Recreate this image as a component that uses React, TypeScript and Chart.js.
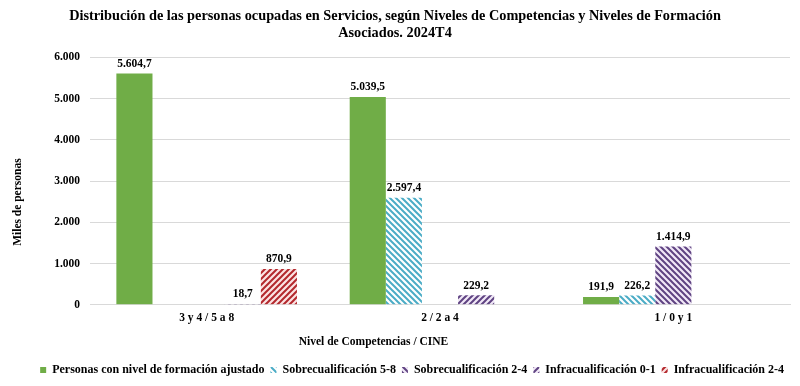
import React, { useEffect, useRef } from "react";
import { Chart, registerables } from "chart.js";

Chart.register(...registerables);

const categories = ["3 y 4 / 5 a 8", "2 / 2 a 4", "1 / 0 y 1"];
const ajustado = [5604.7, 5039.5, 191.9];
const sobre58 = [null, 2597.4, 226.2];
const sobre24 = [null, null, 1414.9];
const infra01 = [18.7, 229.2, null];
const infra24 = [870.9, null, null];
const seriesNames = [
  "Personas con nivel de formación ajustado",
  "Sobrecualificación 5-8",
  "Sobrecualificación 2-4",
  "Infracualificación 0-1",
  "Infracualificación 2-4",
];
const yTicks = [0, 1000, 2000, 3000, 4000, 5000, 6000];

const FONT = "'Liberation Serif', 'Times New Roman', serif";

function fmt(v: number, dec: number) {
  const s = v.toFixed(dec);
  const [i, d] = s.split(".");
  const ii = i.replace(/\B(?=(\d{3})+(?!\d))/g, ".");
  return d !== undefined ? ii + "," + d : ii;
}

function makePattern(color: string, bg: string, back: boolean) {
  const size = 6;
  const c = document.createElement("canvas");
  c.width = size;
  c.height = size;
  const ctx = c.getContext("2d")!;
  ctx.fillStyle = bg;
  ctx.fillRect(0, 0, size, size);
  ctx.strokeStyle = color;
  ctx.lineWidth = 2;
  ctx.lineCap = "square";
  ctx.beginPath();
  if (back) {
    ctx.moveTo(-1, -1);
    ctx.lineTo(size + 1, size + 1);
    ctx.moveTo(-1 - size, -1);
    ctx.lineTo(1, size + 1);
    ctx.moveTo(size - 1, -1);
    ctx.lineTo(2 * size + 1, size + 1);
  } else {
    ctx.moveTo(-1, size + 1);
    ctx.lineTo(size + 1, -1);
    ctx.moveTo(-1 - size, size + 1);
    ctx.lineTo(1, -1);
    ctx.moveTo(size - 1, size + 1);
    ctx.lineTo(2 * size + 1, -1);
  }
  ctx.stroke();
  return ctx.createPattern(c, "repeat")!;
}

const labelPlugin = {
  id: "barLabels",
  afterDatasetsDraw(chart: any) {
    const ctx = chart.ctx;
    ctx.save();
    ctx.font = `bold 11.5px ${FONT}`;
    ctx.fillStyle = "#000";
    ctx.textAlign = "center";
    ctx.textBaseline = "bottom";
    chart.data.datasets.forEach((ds: any, i: number) => {
      const meta = chart.getDatasetMeta(i);
      meta.data.forEach((el: any, j: number) => {
        const v = ds.data[j];
        if (v === null || v === undefined) return;
        ctx.fillText(fmt(v, 1), el.x, el.y - 4);
      });
    });
    ctx.restore();
  },
};

const axisTitlePlugin = {
  id: "axisTitles",
  afterDraw(chart: any) {
    const ctx = chart.ctx;
    const ca = chart.chartArea;
    ctx.save();
    ctx.font = `bold 11.5px ${FONT}`;
    ctx.fillStyle = "#000";
    ctx.textAlign = "center";
    ctx.textBaseline = "middle";
    ctx.fillText("Nivel de Competencias / CINE", ca.left + (ca.right - ca.left) * 0.405, ca.bottom + 37);
    ctx.translate(18, ca.top + (ca.bottom - ca.top) * 0.585);
    ctx.rotate(-Math.PI / 2);
    ctx.fillText("Miles de personas", 0, 0);
    ctx.restore();
  },
};

export default function App() {
  const ref = useRef<HTMLCanvasElement>(null);
  useEffect(() => {
    const colors = [
      "#70AD47",
      makePattern("#4BACC6", "#ffffff", true),
      makePattern("#5F4382", "#F1E8F7", true),
      makePattern("#5F4382", "#F1E8F7", false),
      makePattern("#B3282D", "#FBE3E3", false),
    ];
    const values = [ajustado, sobre58, sobre24, infra01, infra24];
    const chart = new Chart(ref.current!, {
      type: "bar",
      data: {
        labels: categories,
        datasets: values.map((d, i) => ({
          label: seriesNames[i],
          data: d as any,
          backgroundColor: colors[i] as any,
          borderWidth: 0,
          barPercentage: 1,
          categoryPercentage: 0.774,
        })),
      },
      options: {
        animation: false,
        responsive: false,
        maintainAspectRatio: false,
        layout: { padding: { left: 0, right: 10, top: 0, bottom: 0 } },
        plugins: {
          title: {
            display: true,
            text: [
              "Distribución de las personas ocupadas en Servicios, según Niveles de Competencias y Niveles de Formación",
              "Asociados. 2024T4",
            ],
            font: { family: FONT, size: 14.3, weight: "bold" },
            color: "#000",
            padding: { top: 8, bottom: 15 },
            lineHeight: 1.22,
          },
          legend: {
            position: "bottom",
            align: "end",
            labels: {
              font: { family: FONT, size: 12, weight: "bold" },
              color: "#000",
              boxWidth: 6,
              boxHeight: 6,
              padding: 6,
            },
          },
          tooltip: { enabled: false },
        },
        scales: {
          x: {
            grid: { display: false, drawTicks: false },
            border: { color: "#D9D9D9" },
            ticks: {
              font: { family: FONT, size: 11.5, weight: "bold" },
              color: "#000",
              padding: 6,
            },
            title: { display: true, text: " ", font: { size: 12 }, padding: { top: 5, bottom: 8 } },
          },
          y: {
            min: 0,
            max: 6000,
            afterBuildTicks: (s: any) => {
              s.ticks = yTicks.map((v) => ({ value: v }));
            },
            afterFit: (s: any) => {
              s.width = 90;
            },
            grid: { color: "#D9D9D9", drawTicks: false },
            border: { display: false },
            ticks: {
              font: { family: FONT, size: 11.5, weight: "bold" },
              color: "#000",
              padding: 10,
              callback: (v: any) => fmt(Number(v), 0),
            },
            title: { display: false },
          },
        },
      },
      plugins: [labelPlugin, axisTitlePlugin],
    });
    return () => chart.destroy();
  }, []);
  return (
    <div style={{ position: "fixed", left: 0, top: 0, width: 800, height: 386, background: "#fff" }}>
      <canvas ref={ref} width={800} height={386} />
    </div>
  );
}
